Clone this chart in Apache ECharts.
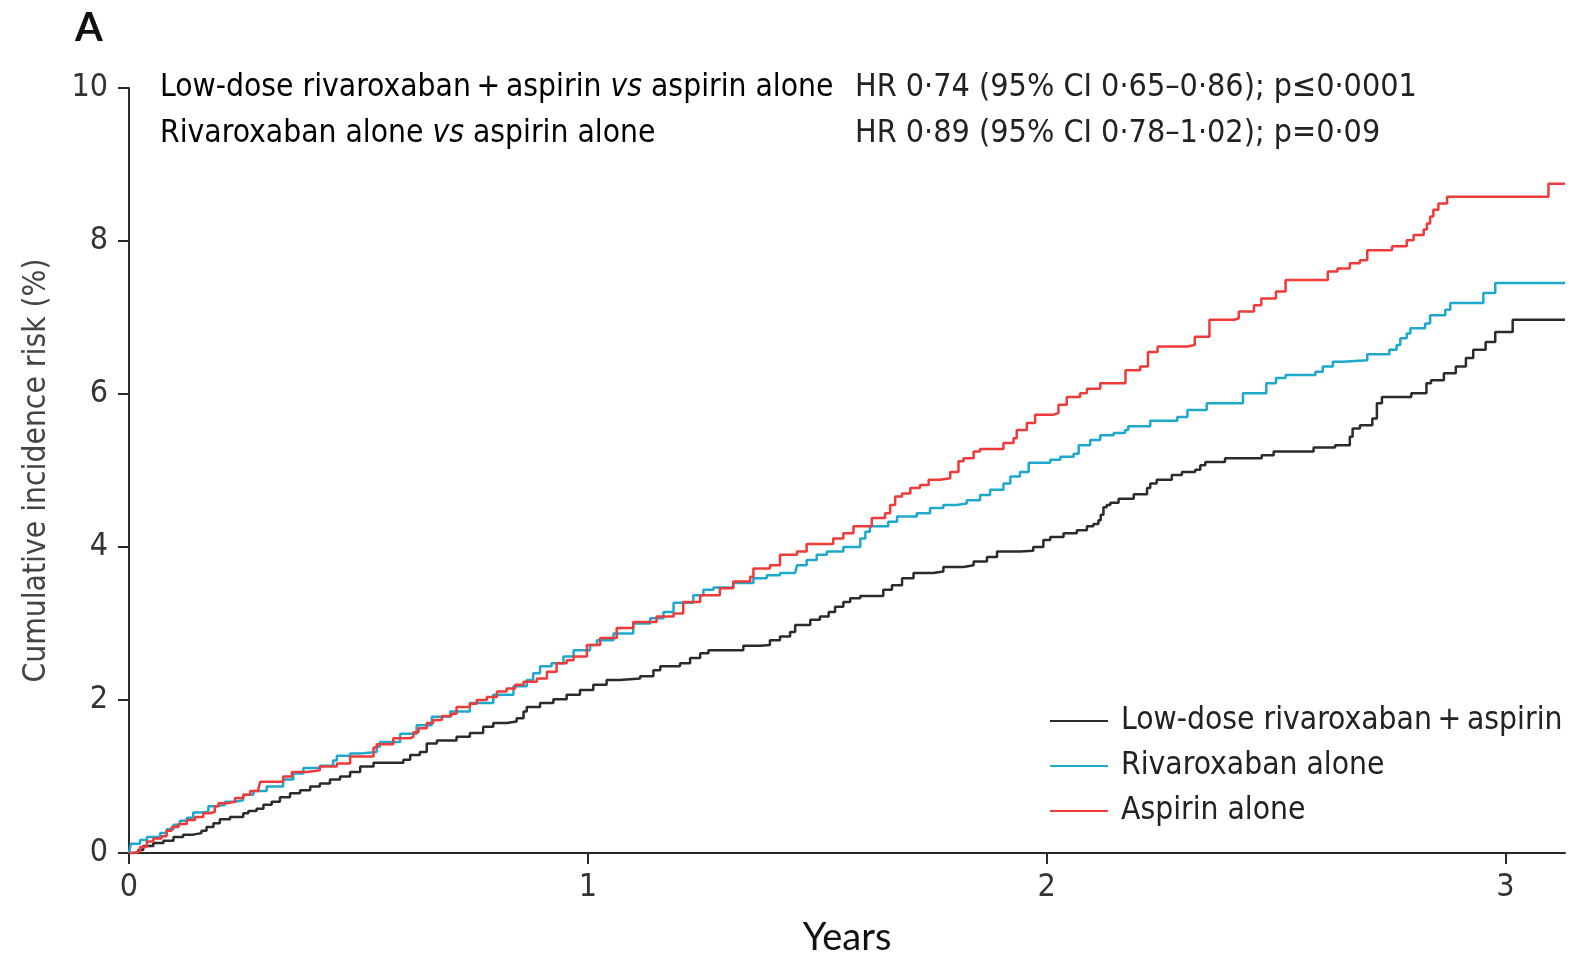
<!DOCTYPE html>
<html lang="en">
<head>
    <meta charset="utf-8">
    <title>Cumulative incidence risk</title>
    <script src="https://cdn.jsdelivr.net/npm/echarts@6.0.0/dist/echarts.min.js"></script>
    <style>
        html, body { margin: 0; padding: 0; background: #fff; }
        #main { width: 1573px; height: 960px; }
    </style>
</head>
<body>
<div id="main"></div>
<script type="text/javascript">
    // [years, cumulative incidence %]
    var lowDoseRivaAspirin = [
        [0, 0], [0.02, 0.04], [0.031, 0.09], [0.053, 0.13], [0.075, 0.16], [0.097, 0.21], [0.118, 0.24],
        [0.14, 0.26], [0.158, 0.29], [0.169, 0.34], [0.184, 0.39], [0.198, 0.44], [0.22, 0.47], [0.249, 0.52],
        [0.26, 0.55], [0.278, 0.58], [0.293, 0.63], [0.311, 0.67], [0.329, 0.73], [0.351, 0.78], [0.373, 0.82],
        [0.395, 0.87], [0.416, 0.91], [0.438, 0.96], [0.46, 1.00], [0.482, 1.06], [0.504, 1.13], [0.533, 1.18],
        [0.598, 1.22], [0.613, 1.28], [0.634, 1.32], [0.649, 1.43], [0.671, 1.47], [0.714, 1.52], [0.743, 1.57],
        [0.772, 1.65], [0.794, 1.70], [0.823, 1.72], [0.845, 1.76], [0.86, 1.85], [0.867, 1.91], [0.896, 1.96],
        [0.925, 2.01], [0.954, 2.07], [0.983, 2.13], [1.012, 2.20], [1.041, 2.26], [1.07, 2.28], [1.114, 2.31],
        [1.143, 2.39], [1.158, 2.44], [1.201, 2.48], [1.223, 2.55], [1.245, 2.61], [1.263, 2.65], [1.339, 2.71],
        [1.376, 2.72], [1.397, 2.78], [1.419, 2.83], [1.441, 2.89], [1.452, 2.98], [1.485, 3.05], [1.506, 3.09],
        [1.525, 3.15], [1.539, 3.22], [1.557, 3.28], [1.572, 3.33], [1.594, 3.36], [1.644, 3.44], [1.663, 3.50],
        [1.685, 3.59], [1.71, 3.66], [1.753, 3.68], [1.775, 3.74], [1.819, 3.76], [1.841, 3.81], [1.87, 3.87],
        [1.892, 3.94], [1.942, 3.95], [1.971, 4.00], [1.993, 4.09], [2.008, 4.13], [2.037, 4.18], [2.066, 4.22],
        [2.088, 4.27], [2.102, 4.30], [2.113, 4.35], [2.118, 4.42], [2.124, 4.52], [2.131, 4.55], [2.139, 4.58],
        [2.157, 4.63], [2.19, 4.69], [2.219, 4.77], [2.226, 4.83], [2.24, 4.88], [2.273, 4.94], [2.295, 4.98],
        [2.324, 5.01], [2.335, 5.07], [2.346, 5.11], [2.389, 5.16], [2.469, 5.20], [2.495, 5.25], [2.582, 5.30],
        [2.629, 5.33], [2.661, 5.44], [2.667, 5.55], [2.683, 5.59], [2.71, 5.68], [2.72, 5.88], [2.731, 5.96],
        [2.795, 6.01], [2.828, 6.14], [2.838, 6.18], [2.866, 6.27], [2.892, 6.36], [2.914, 6.47], [2.93, 6.58],
        [2.957, 6.68], [2.978, 6.81], [3.016, 6.97], [3.13, 6.97]
    ];
    var rivaroxabanAlone = [
        [0, 0], [0.004, 0.12], [0.024, 0.17], [0.039, 0.21], [0.068, 0.26], [0.082, 0.31], [0.097, 0.37],
        [0.111, 0.42], [0.126, 0.46], [0.14, 0.53], [0.158, 0.54], [0.173, 0.61], [0.191, 0.63], [0.209, 0.67],
        [0.231, 0.69], [0.249, 0.76], [0.271, 0.81], [0.30, 0.87], [0.336, 0.96], [0.358, 1.04], [0.38, 1.11],
        [0.416, 1.14], [0.445, 1.21], [0.453, 1.27], [0.482, 1.30], [0.504, 1.32], [0.54, 1.39], [0.547, 1.45],
        [0.591, 1.56], [0.627, 1.67], [0.66, 1.78], [0.70, 1.85], [0.743, 1.96], [0.794, 2.07], [0.838, 2.18],
        [0.867, 2.26], [0.881, 2.35], [0.896, 2.44], [0.921, 2.48], [0.947, 2.57], [0.969, 2.65], [1.005, 2.72],
        [1.02, 2.78], [1.056, 2.87], [1.099, 3.00], [1.136, 3.07], [1.165, 3.15], [1.187, 3.27], [1.23, 3.37],
        [1.252, 3.44], [1.274, 3.47], [1.317, 3.53], [1.361, 3.59], [1.39, 3.63], [1.419, 3.66], [1.452, 3.68],
        [1.456, 3.76], [1.477, 3.83], [1.499, 3.90], [1.521, 3.94], [1.557, 4.00], [1.594, 4.11], [1.605, 4.20],
        [1.615, 4.27], [1.655, 4.33], [1.674, 4.40], [1.717, 4.44], [1.746, 4.51], [1.775, 4.55], [1.804, 4.57],
        [1.826, 4.61], [1.855, 4.68], [1.877, 4.75], [1.906, 4.83], [1.921, 4.92], [1.942, 4.98], [1.961, 5.10],
        [2.008, 5.14], [2.03, 5.18], [2.059, 5.22], [2.07, 5.33], [2.095, 5.40], [2.117, 5.46], [2.146, 5.49],
        [2.171, 5.53], [2.178, 5.58], [2.226, 5.65], [2.285, 5.70], [2.307, 5.79], [2.349, 5.88], [2.428, 6.01],
        [2.479, 6.14], [2.50, 6.21], [2.521, 6.25], [2.586, 6.29], [2.602, 6.36], [2.624, 6.42], [2.645, 6.44],
        [2.699, 6.52], [2.747, 6.58], [2.763, 6.64], [2.771, 6.73], [2.785, 6.79], [2.793, 6.86], [2.825, 6.92],
        [2.836, 7.03], [2.869, 7.10], [2.88, 7.19], [2.952, 7.32], [2.978, 7.45], [3.13, 7.45]
    ];
    var aspirinAlone = [
        [0, 0], [0.01, 0.02], [0.024, 0.08], [0.039, 0.15], [0.053, 0.19], [0.071, 0.22], [0.082, 0.29],
        [0.093, 0.34], [0.108, 0.38], [0.126, 0.43], [0.144, 0.47], [0.162, 0.52], [0.177, 0.54], [0.187, 0.61],
        [0.195, 0.65], [0.213, 0.67], [0.231, 0.72], [0.249, 0.76], [0.264, 0.81], [0.282, 0.84], [0.286, 0.93],
        [0.336, 1.00], [0.355, 1.06], [0.387, 1.08], [0.416, 1.13], [0.453, 1.17], [0.482, 1.26], [0.533, 1.38],
        [0.54, 1.42], [0.576, 1.50], [0.613, 1.52], [0.62, 1.58], [0.631, 1.63], [0.649, 1.70], [0.663, 1.74],
        [0.682, 1.79], [0.703, 1.82], [0.714, 1.91], [0.743, 1.95], [0.758, 2.00], [0.78, 2.04], [0.802, 2.11],
        [0.823, 2.15], [0.842, 2.20], [0.86, 2.24], [0.889, 2.28], [0.911, 2.37], [0.932, 2.48], [0.954, 2.52],
        [0.969, 2.57], [0.998, 2.72], [1.027, 2.81], [1.063, 2.94], [1.099, 3.02], [1.15, 3.09], [1.187, 3.13],
        [1.208, 3.28], [1.245, 3.37], [1.288, 3.46], [1.317, 3.55], [1.354, 3.61], [1.361, 3.72], [1.397, 3.76],
        [1.419, 3.90], [1.456, 3.94], [1.477, 4.04], [1.535, 4.11], [1.557, 4.18], [1.579, 4.27], [1.619, 4.38],
        [1.648, 4.44], [1.659, 4.55], [1.67, 4.66], [1.685, 4.70], [1.703, 4.77], [1.724, 4.81], [1.743, 4.88],
        [1.768, 4.90], [1.79, 4.98], [1.808, 5.12], [1.819, 5.16], [1.841, 5.25], [1.855, 5.28], [1.906, 5.36],
        [1.928, 5.42], [1.935, 5.53], [1.957, 5.62], [1.975, 5.73], [2.015, 5.75], [2.026, 5.86], [2.044, 5.96],
        [2.073, 6.01], [2.088, 6.07], [2.117, 6.14], [2.172, 6.31], [2.204, 6.36], [2.221, 6.55], [2.242, 6.62],
        [2.307, 6.64], [2.323, 6.75], [2.355, 6.97], [2.409, 6.99], [2.419, 7.08], [2.452, 7.16], [2.468, 7.25],
        [2.50, 7.34], [2.521, 7.49], [2.613, 7.60], [2.634, 7.64], [2.661, 7.71], [2.683, 7.75], [2.699, 7.88],
        [2.753, 7.93], [2.785, 8.01], [2.80, 8.08], [2.822, 8.15], [2.829, 8.23], [2.836, 8.32], [2.843, 8.41],
        [2.854, 8.49], [2.873, 8.58], [3.094, 8.75], [3.13, 8.75]
    ];

    var seriesNames = ['Low-dose rivaroxaban\u2009+\u2009aspirin', 'Rivaroxaban alone', 'Aspirin alone'];
    var seriesColors = ['#2b2b2b', '#1ea8cc', '#f03a3a'];
    var xTicks = [0, 1, 2, 3];
    var yTicks = [0, 2, 4, 6, 8, 10];

    var narrow = '"Liberation Sans Narrow", "DejaVu Sans Condensed", "Liberation Sans", sans-serif';
    var inkColor = '#2a2a2a';

    function curve(name, data, color) {
        return {
            name: name,
            type: 'line',
            step: 'end',
            data: data,
            symbol: 'none',
            silent: true,
            animation: false,
            lineStyle: { color: color, width: 2.5 },
            itemStyle: { color: color }
        };
    }

    var myChart = echarts.init(document.getElementById('main'), null, { renderer: 'canvas' });

    var option = {
        backgroundColor: '#ffffff',
        animation: false,
        grid: { left: 129, right: 8, top: 88, bottom: 107, containLabel: false, outerBoundsMode: 'none' },
        xAxis: {
            type: 'value',
            min: 0,
            max: 3.13,
            interval: 1,
            name: 'Years',
            nameLocation: 'middle',
            nameGap: 66,
            nameTextStyle: { fontFamily: 'Lato, "Liberation Sans", sans-serif', fontSize: 38, color: '#111' },
            axisLine: { show: true, lineStyle: { color: inkColor, width: 2 } },
            axisTick: { show: true, inside: false, length: 11, customValues: xTicks, lineStyle: { color: inkColor, width: 2 } },
            axisLabel: { customValues: xTicks, margin: 19, fontFamily: narrow, fontSize: 32, color: '#333' },
            splitLine: { show: false }
        },
        yAxis: {
            type: 'value',
            min: 0,
            max: 10,
            interval: 2,
            name: 'Cumulative incidence risk (%)',
            nameLocation: 'middle',
            nameGap: 76,
            nameRotate: 90,
            nameTextStyle: { fontFamily: narrow, fontSize: 31.5, color: '#444' },
            axisLine: { show: true, lineStyle: { color: inkColor, width: 2 } },
            axisTick: { show: true, inside: false, length: 11, customValues: yTicks, lineStyle: { color: inkColor, width: 2 } },
            axisLabel: { customValues: yTicks, margin: 21, fontFamily: narrow, fontSize: 32, color: '#333' },
            splitLine: { show: false }
        },
        legend: {
            orient: 'vertical',
            left: 1050,
            top: 705,
            padding: 0,
            icon: 'rect',
            itemWidth: 58,
            itemHeight: 2,
            itemGap: 13,
            selectedMode: false,
            data: seriesNames,
            textStyle: { fontFamily: narrow, fontSize: 31.5, color: '#222', padding: [0, 0, 0, 8] }
        },
        graphic: [
            {
                type: 'text', left: 75, top: 8,
                style: { text: 'A', font: 'bold 40px Lato, "Liberation Sans", sans-serif', fill: '#111' }
            },
            {
                type: 'text', x: 160, y: 88,
                style: {
                    text: '{a|Low-dose rivaroxaban\u2009+\u2009aspirin }{i|vs}{a| aspirin alone}',
                    verticalAlign: 'middle',
                    rich: {
                        a: { fontFamily: narrow, fontSize: 31.5, color: '#222' },
                        i: { fontFamily: narrow, fontSize: 31.5, fontStyle: 'italic', color: '#222' }
                    }
                }
            },
            {
                type: 'text', x: 160, y: 134,
                style: {
                    text: '{a|Rivaroxaban alone }{i|vs}{a| aspirin alone}',
                    verticalAlign: 'middle',
                    rich: {
                        a: { fontFamily: narrow, fontSize: 31.5, color: '#222' },
                        i: { fontFamily: narrow, fontSize: 31.5, fontStyle: 'italic', color: '#222' }
                    }
                }
            },
            {
                type: 'text', x: 855, y: 88,
                style: { text: 'HR 0·74 (95% CI 0·65–0·86); p≤0·0001', verticalAlign: 'middle', font: '32px ' + narrow, fill: '#222' }
            },
            {
                type: 'text', x: 855, y: 134,
                style: { text: 'HR 0·89 (95% CI 0·78–1·02); p=0·09', verticalAlign: 'middle', font: '32px ' + narrow, fill: '#222' }
            }
        ],
        series: [
            curve(seriesNames[0], lowDoseRivaAspirin, seriesColors[0]),
            curve(seriesNames[1], rivaroxabanAlone, seriesColors[1]),
            curve(seriesNames[2], aspirinAlone, seriesColors[2])
        ]
    };

    myChart.setOption(option);
</script>
</body>
</html>
